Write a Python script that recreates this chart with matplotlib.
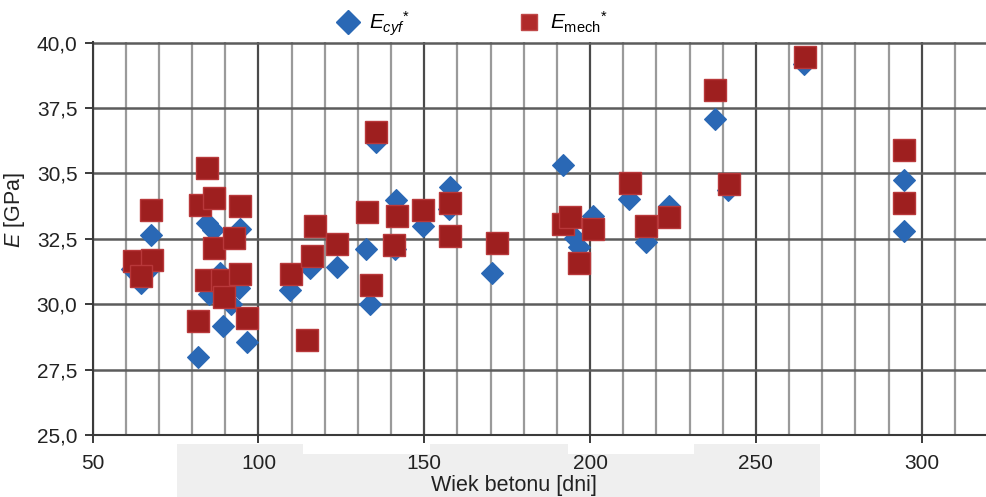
import matplotlib
matplotlib.use("Agg")
import matplotlib.pyplot as plt
from matplotlib.lines import Line2D
from matplotlib.patches import Rectangle
from matplotlib.ticker import FixedLocator, FixedFormatter, MultipleLocator

plt.rcParams["font.family"] = ["Liberation Sans", "DejaVu Sans"]
plt.rcParams["mathtext.fontset"] = "custom"
plt.rcParams["mathtext.rm"] = "Liberation Sans"
plt.rcParams["mathtext.it"] = "Liberation Sans:italic"

BLUE = "#2a68b5"
RED = "#9e1f1f"
RED_EDGE = "#b8383a"
GRID_DARK = "#4a4a4a"
GRID_LIGHT = "#9a9a9a"
BAND = "#efefef"

# ── Data ──────────────────────────────────────────────────────────────────────
# E_cyf (diamonds): age [days], modulus (axis units)
cyf_age = [61.8, 64.5, 67.5, 67.0, 81.7, 82.5, 84.5, 86.3, 85.2, 89.2, 91.7,
           94.3, 94.2, 96.4, 88.5, 109.5, 115.5, 123.7, 132.5, 133.7, 135.5,
           141.5, 141.2, 149.7, 157.7, 157.5, 170.5, 191.8, 195.3, 196.8,
           201.0, 211.8, 216.8, 223.8, 237.6, 241.6, 264.6, 294.6, 294.6]
cyf_val = [31.35, 30.8, 32.65, 31.35, 28.0, 33.8, 33.1, 32.85, 30.4, 29.17, 30.0,
           32.87, 30.64, 28.57, 31.2, 30.55, 31.4, 31.42, 32.1, 30.0, 36.2,
           34.0, 32.1, 32.98, 34.5, 33.65, 31.2, 35.32, 32.55, 32.2,
           33.38, 34.02, 32.37, 33.76, 37.08, 34.35, 39.17, 34.75, 32.82]

# E_mech (squares)
mech_age = [62.5, 67.8, 64.5, 67.5, 84.5, 82.5, 86.5, 94.3, 86.6, 92.6, 84.3,
            89.1, 94.3, 89.6, 81.7, 96.6, 109.8, 114.7, 116.0, 117.0, 123.7,
            132.7, 134.0, 135.5, 141.7, 141.0, 149.7, 157.7, 157.7, 171.8,
            191.8, 194.0, 200.8, 196.8, 212.0, 217.0, 223.8, 237.6, 241.9,
            264.8, 294.8, 294.8]
mech_val = [31.66, 31.71, 31.08, 33.6, 35.2, 33.8, 34.05, 33.76, 32.17, 32.53, 30.94,
            30.94, 31.17, 30.26, 29.36, 29.49, 31.16, 28.62, 31.84, 32.98, 32.31,
            33.53, 30.73, 36.59, 33.37, 32.28, 33.62, 33.88, 32.6, 32.33,
            33.07, 33.32, 32.88, 31.58, 34.65, 33.0, 33.32, 38.18, 34.6,
            39.45, 35.91, 33.86]

y_ticks = [25.0, 27.5, 30.0, 32.5, 35.0, 37.5, 40.0]
y_labels = ["25,0", "27,5", "30,0", "32,5", "30,5", "37,5", "40,0"]
x_ticks = [50, 100, 150, 200, 250, 300]


def main():
    W, H = 987, 497
    fig = plt.figure(figsize=(W / 100, H / 100), dpi=100)
    fig.patch.set_facecolor("white")

    # light grey band behind the x-axis label (as in the scan)
    def px_rect(x0, y0, x1, y1):
        fig.patches.append(Rectangle((x0 / W, 1 - y1 / H), (x1 - x0) / W, (y1 - y0) / H,
                                     transform=fig.transFigure, facecolor=BAND,
                                     edgecolor="none", zorder=-1))
    px_rect(177, 454, 820, 497)
    px_rect(177, 444, 303, 455)
    px_rect(430, 444, 568, 455)
    px_rect(694, 444, 820, 455)

    ax = fig.add_axes([92.7 / W, 1 - 435 / H, (988 - 92.7) / W, (435 - 41.7) / H])
    ax.set_zorder(1)
    ax.set_facecolor("white")
    ax.set_xlim(50, 320)
    ax.set_ylim(25, 40.04)

    # grid
    ax.xaxis.set_major_locator(FixedLocator(x_ticks))
    ax.xaxis.set_minor_locator(MultipleLocator(10))
    ax.yaxis.set_major_locator(FixedLocator(y_ticks))
    ax.yaxis.set_major_formatter(FixedFormatter(y_labels))
    ax.grid(True, which="minor", axis="x", color=GRID_LIGHT, linewidth=1.6, zorder=0)
    ax.grid(True, which="major", axis="x", color=GRID_DARK, linewidth=1.6, zorder=0)
    ax.grid(True, which="major", axis="y", color="#5c5c5c", linewidth=1.8, zorder=0)
    ax.set_axisbelow(True)

    for s in ("top", "right"):
        ax.spines[s].set_visible(False)
    for s in ("left", "bottom"):
        ax.spines[s].set_color("#3a3a3a")
        ax.spines[s].set_linewidth(1.5)

    ax.tick_params(axis="both", which="major", direction="out", length=6,
                   width=1.4, color="#3a3a3a", labelsize=15, labelcolor="#222222")
    ax.tick_params(axis="y", pad=5)
    ax.tick_params(axis="x", pad=7.5)
    ax.tick_params(axis="x", which="minor", length=0)

    ax.plot(cyf_age, cyf_val, linestyle="none", marker="D", markersize=11.5,
            markerfacecolor=BLUE, markeredgecolor=BLUE, markeredgewidth=0.8, zorder=3)
    ax.plot(mech_age, mech_val, linestyle="none", marker="s", markersize=15.5,
            markerfacecolor=RED, markeredgecolor=RED_EDGE, markeredgewidth=1.0, zorder=4)

    ax.set_xlabel("Wiek betonu [dni]", fontsize=15.5, color="#222222")
    ax.xaxis.set_label_coords(0.4706, -0.128)
    ax.xaxis.label.set_va("center")
    ax.set_ylabel(r"$E$ [GPa]", fontsize=15.5, color="#222222")
    ax.yaxis.set_label_coords(-0.0868, 0.572)
    ax.yaxis.label.set_va("center")

    handles = [
        Line2D([], [], linestyle="none", marker="D", markersize=12,
               markerfacecolor=BLUE, markeredgecolor=BLUE),
        Line2D([], [], linestyle="none", marker="s", markersize=12,
               markerfacecolor="#b02a2a", markeredgecolor="#c04848"),
    ]
    labels = [r"$E_{cyf}{}^{*}$", r"$E_{\mathrm{mech}}{}^{*}$"]
    fig.legend(handles, labels, loc="center left", bbox_to_anchor=(338 / W, 1 - 24 / H),
               ncol=2, frameon=False, fontsize=15, handlelength=1.0,
               handletextpad=0.5, columnspacing=5.2, borderpad=0, borderaxespad=0)

    fig.savefig("out.png", dpi=100, facecolor="white")
    plt.close(fig)


if __name__ == "__main__":
    main()
